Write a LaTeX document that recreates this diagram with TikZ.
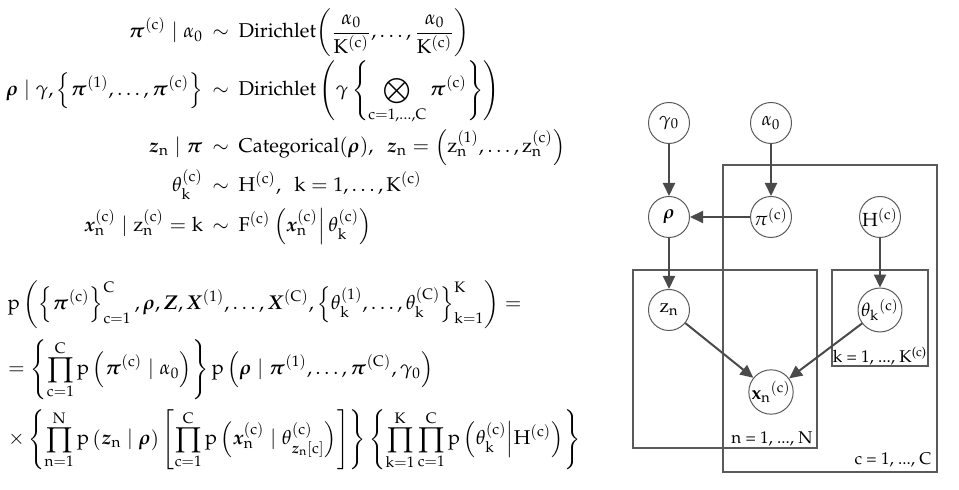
\documentclass[tikz,border=0pt]{standalone}
\usepackage[T1]{fontenc}
\usepackage{amsmath,amssymb}
\usepackage{mathpazo}
\usetikzlibrary{arrows.meta}
\definecolor{ln}{HTML}{4A4A4A}
\definecolor{bx}{HTML}{5A5A5A}
% upright Latin letters in math (as in the reference)
\newcount\lettercnt
\lettercnt=`a
\loop \mathcode\lettercnt=\numexpr"7000+\lettercnt\relax
  \advance\lettercnt by 1 \ifnum\lettercnt<\numexpr`z+1\relax\repeat
\lettercnt=`A
\loop \mathcode\lettercnt=\numexpr"7000+\lettercnt\relax
  \advance\lettercnt by 1 \ifnum\lettercnt<\numexpr`Z+1\relax\repeat
\tikzset{
  eqn/.style={inner sep=0pt, outer sep=0pt, font=\fontsize{10}{12}\selectfont},
  var/.style={circle, draw=bx, line width=0.5pt, minimum size=20.5pt, inner sep=0pt, font=\fontsize{9.5}{10}\selectfont},
  plate/.style={draw=bx, line width=0.55pt},
  platelab/.style={inner sep=0pt, font=\fontsize{8.5}{10}\selectfont},
  edge/.style={draw=ln, line width=1pt, -{Triangle[length=6.5pt,width=6pt]}}
}
\newcommand{\bpi}{\boldsymbol{\pi}}
\newcommand{\brho}{\boldsymbol{\rho}}
\newcommand{\bz}{\boldsymbol{\mathnormal{z}}}
\newcommand{\bx}{\boldsymbol{\mathnormal{x}}}
\newcommand{\bZ}{\boldsymbol{\mathnormal{Z}}}
\newcommand{\bX}{\boldsymbol{\mathnormal{X}}}
\newcommand{\tl}{\:\sim\:}
\begin{document}
\begin{tikzpicture}[x=0.5pt,y=-0.5pt]
\useasboundingbox (0,0) rectangle (959,490);
% top block
\node[eqn, anchor=base east] (l1) at (203,38) {$\displaystyle \bpi^{(c)}\mid\alpha_0$};
\node[eqn, anchor=base west] (r1) at (203,38) {$\displaystyle {}\tl \text{Dirichlet}\biggl(\frac{\alpha_0}{K^{(c)}},\dots,\frac{\alpha_0}{K^{(c)}}\biggr)$};
\node[eqn, anchor=base east] (l2) at (203,96) {$\displaystyle \brho\mid\gamma,\left\{\bpi^{(1)},\dots,\bpi^{(c)}\right\}$};
\node[eqn, anchor=base west] (r2) at (203,96) {$\displaystyle {}\tl \text{Dirichlet}\left(\gamma\left\{\bigotimes_{c=1,\dots,C}\bpi^{(c)}\right\}\right)$};
\node[eqn, anchor=base east] (l3) at (203,153) {$\displaystyle \bz_n\mid\bpi$};
\node[eqn, anchor=base west] (r3) at (203,153) {$\displaystyle {}\tl \text{Categorical}(\brho),\ \ \bz_n=\left(z_n^{(1)},\dots,z_n^{(c)}\right)$};
\node[eqn, anchor=base east] (l4) at (203,192) {$\displaystyle \theta_k^{(c)}$};
\node[eqn, anchor=base west] (r4) at (203,192) {$\displaystyle {}\tl H^{(c)},\ \ k=1,\dots,K^{(c)}$};
\node[eqn, anchor=base east] (l5) at (203,232) {$\displaystyle \bx_n^{(c)}\mid z_n^{(c)}=k$};
\node[eqn, anchor=base west] (r5) at (203,232) {$\displaystyle {}\tl F^{(c)}\left(\bx_n^{(c)}\middle|\,\theta_k^{(c)}\right)$};
% bottom block
\node[eqn, anchor=base west] (b1) at (8,310) {$\displaystyle p\left(\left\{\bpi^{(c)}\right\}_{c=1}^{C},\brho,\bZ,\bX^{(1)},\dots,\bX^{(C)},\left\{\theta_k^{(1)},\dots,\theta_k^{(C)}\right\}_{k=1}^{K}\right)=$};
\node[eqn, anchor=base west] (b2) at (8,375) {$\displaystyle =\left\{\prod_{c=1}^{C}p\left(\bpi^{(c)}\mid\alpha_0\right)\right\}p\left(\brho\mid\bpi^{(1)},\dots,\bpi^{(C)},\gamma_0\right)$};
\node[eqn, anchor=base west] (b3) at (8,445) {$\displaystyle \times\left\{\prod_{n=1}^{N}p\left(\bz_n\mid\brho\right)\left[\prod_{c=1}^{C}p\left(\bx_n^{(c)}\mid\theta_{\bz_n[c]}^{(c)}\right)\right]\right\}\left\{\prod_{k=1}^{K}\prod_{c=1}^{C}p\left(\theta_k^{(c)}\middle|H^{(c)}\right)\right\}$};
% plates
\draw[plate] (723,165) rectangle (937,472);
\draw[plate] (633,270) rectangle (817,448);
\draw[plate] (832,270) rectangle (928,366);
\node[platelab] (ln) at (772,439) {n = 1, ..., N};
\node[platelab] (lc) at (893,460) {c = 1, ..., C};
\node[platelab] (lk) at (880,356) {k = 1, ..., K\textsuperscript{(c)}};
% nodes
\node[var] (g) at (669,123) {$\gamma_0$};
\node[var] (a) at (771,123) {$\alpha_0$};
\node[var] (rho) at (669,217) {$\brho$};
\node[var] (pi) at (771,217) {$\pi^{(c)}$};
\node[var] (H) at (880,217) {$H^{(c)}$};
\node[var] (z) at (669,310) {$z_n$};
\node[var] (th) at (880,310) {$\theta_k{}^{(c)}$};
\node[var] (x) at (771,392) {$\mathbf{x}_n{}^{(c)}$};
% edges
\draw[edge] (g) -- (rho);
\draw[edge] (a) -- (pi);
\draw[edge] (pi) -- (rho);
\draw[edge] (rho) -- (z);
\draw[edge] (H) -- (th);
\draw[edge] (z) -- (x);
\draw[edge] (th) -- (x);
\end{tikzpicture}
\end{document}
